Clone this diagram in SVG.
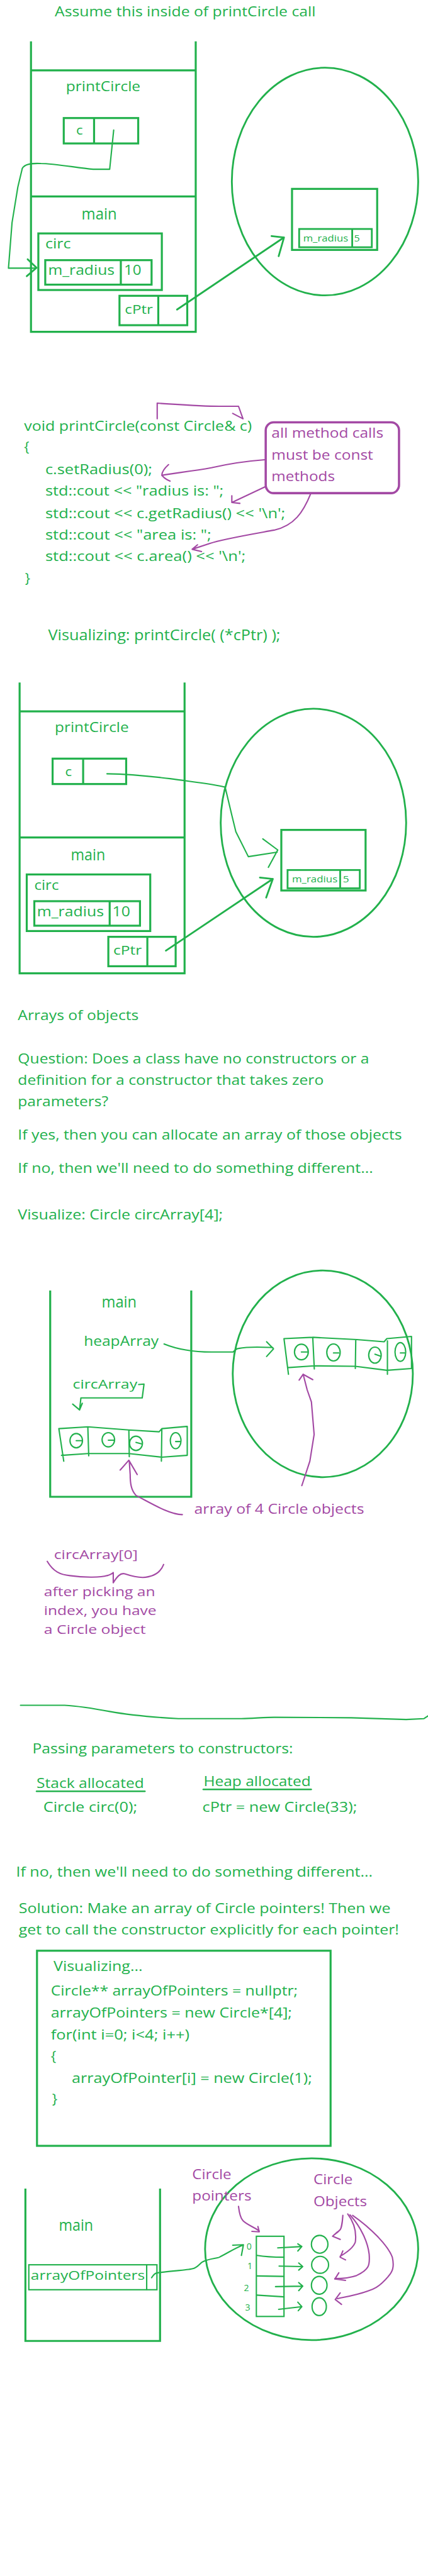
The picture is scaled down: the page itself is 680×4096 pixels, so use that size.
<svg xmlns="http://www.w3.org/2000/svg" width="680" height="4096" viewBox="0 0 680 4096">
<style>
text{font-family:"Open Sans","Liberation Sans",sans-serif}
.g{fill:#22b14c;font-size:31px}
.p{fill:#a349a4;font-size:30px}
.s{fill:none;stroke:#22b14c;stroke-width:4.5;stroke-linejoin:miter}
.e{fill:none;stroke:#22b14c;stroke-width:4}
.t{fill:none;stroke:#22b14c;stroke-width:3;stroke-linecap:round;stroke-linejoin:round}
.q{fill:none;stroke:#a349a4;stroke-width:3;stroke-linecap:round;stroke-linejoin:round}
.pb{fill:none;stroke:#a349a4;stroke-width:5}
</style>
<rect x="0" y="0" width="680" height="4096" fill="#ffffff"/>
<g transform="scale(0.70833)">

<!-- ===== Section 1 ===== -->
<g id="title1"><text class="g" x="123" y="37" textLength="585" lengthAdjust="spacingAndGlyphs">Assume this inside of printCircle call</text></g>
<g id="stack1">
<path class="s" d="M69.5,93 V745 H439 V93 M69.5,158 H439 M69.5,441 H439"/>
<text class="g" style="font-size:32px" x="148" y="205" textLength="167" lengthAdjust="spacingAndGlyphs">printCircle</text>
<text class="g" style="font-size:37px" x="183" y="493" textLength="79" lengthAdjust="spacingAndGlyphs">main</text>
</g>
<g id="cbox1">
<rect class="s" x="143" y="265" width="167" height="57"/>
<line class="s" x1="211" y1="265" x2="211" y2="322"/>
<text class="g" style="font-size:28px" x="171" y="302" textLength="15" lengthAdjust="spacingAndGlyphs">c</text>
</g>
<g id="circ1">
<rect class="s" x="86" y="524" width="277" height="127"/>
<text class="g" x="101.5" y="557" textLength="57.5" lengthAdjust="spacingAndGlyphs">circ</text>
<rect class="s" x="101.5" y="584" width="238.5" height="55"/>
<line class="s" x1="271" y1="584" x2="271" y2="639"/>
<text class="g" style="font-size:30px" x="108" y="617" textLength="149" lengthAdjust="spacingAndGlyphs">m_radius</text>
<text class="g" x="278" y="617" textLength="39" lengthAdjust="spacingAndGlyphs">10</text>
</g>
<g id="cptr1">
<rect class="s" x="268" y="664" width="152" height="66"/>
<line class="s" x1="355" y1="664" x2="355" y2="730"/>
<text class="g" style="font-size:28px" x="280" y="705" textLength="63" lengthAdjust="spacingAndGlyphs">cPtr</text>
</g>
<g id="heap1">
<ellipse class="e" cx="729" cy="407.5" rx="209" ry="255.5"/>
</g>
<g id="heapobj1">
<rect class="s" x="655" y="424" width="191" height="137"/>
<rect class="e" x="671" y="514" width="163" height="41"/>
<line class="e" x1="790" y1="514" x2="790" y2="555"/>
<text class="g" style="font-size:20px" x="680" y="542" textLength="101" lengthAdjust="spacingAndGlyphs">m_radius</text>
<text class="g" style="font-size:20px" x="794" y="542" textLength="13" lengthAdjust="spacingAndGlyphs">5</text>
</g>

<!-- ===== Section 2: code ===== -->
<g id="code1">
<text class="g" x="54" y="967" textLength="511" lengthAdjust="spacingAndGlyphs">void printCircle(const Circle&amp; c)</text>
<text class="g" x="54" y="1014">{</text>
<text class="g" x="101.5" y="1065" textLength="240" lengthAdjust="spacingAndGlyphs">c.setRadius(0);</text>
<text class="g" x="101.5" y="1113" textLength="400" lengthAdjust="spacingAndGlyphs">std::cout &lt;&lt; "radius is: ";</text>
<text class="g" x="101.5" y="1163" textLength="538.5" lengthAdjust="spacingAndGlyphs">std::cout &lt;&lt; c.getRadius() &lt;&lt; '\n';</text>
<text class="g" x="101.5" y="1212" textLength="372.5" lengthAdjust="spacingAndGlyphs">std::cout &lt;&lt; "area is: ";</text>
<text class="g" x="101.5" y="1260" textLength="449.5" lengthAdjust="spacingAndGlyphs">std::cout &lt;&lt; c.area() &lt;&lt; '\n';</text>
<text class="g" x="56" y="1309">}</text>
</g>
<g id="callout">
<rect class="pb" x="596" y="948" width="299" height="159" rx="18"/>
<text class="p" x="609" y="983" textLength="251" lengthAdjust="spacingAndGlyphs">all method calls</text>
<text class="p" x="609" y="1032" textLength="228" lengthAdjust="spacingAndGlyphs">must be const</text>
<text class="p" x="609" y="1080" textLength="142" lengthAdjust="spacingAndGlyphs">methods</text>
</g>

<!-- ===== Section 3 ===== -->
<g id="title2"><text class="g" style="font-size:33px" x="108" y="1437" textLength="521" lengthAdjust="spacingAndGlyphs">Visualizing: printCircle( (*cPtr) );</text></g>
<g id="stack2">
<path class="s" d="M44,1532 V2185 H414 V1532 M44,1597 H414 M44,1880 H414"/>
<text class="g" style="font-size:32px" x="123" y="1643" textLength="166" lengthAdjust="spacingAndGlyphs">printCircle</text>
<text class="g" style="font-size:37px" x="159" y="1932" textLength="77" lengthAdjust="spacingAndGlyphs">main</text>
</g>
<g id="cbox2">
<rect class="s" x="118" y="1703" width="165" height="57"/>
<line class="s" x1="186.5" y1="1703" x2="186.5" y2="1760"/>
<text class="g" style="font-size:28px" x="146" y="1742" textLength="15" lengthAdjust="spacingAndGlyphs">c</text>
</g>
<g id="circ2">
<rect class="s" x="60" y="1963" width="277" height="127"/>
<text class="g" x="77" y="1997" textLength="55" lengthAdjust="spacingAndGlyphs">circ</text>
<rect class="s" x="77" y="2023" width="237" height="55"/>
<line class="s" x1="246" y1="2023" x2="246" y2="2078"/>
<text class="g" style="font-size:30px" x="83" y="2057" textLength="150" lengthAdjust="spacingAndGlyphs">m_radius</text>
<text class="g" x="252" y="2057" textLength="40" lengthAdjust="spacingAndGlyphs">10</text>
</g>
<g id="cptr2">
<rect class="s" x="243" y="2103" width="151" height="66"/>
<line class="s" x1="330.5" y1="2103" x2="330.5" y2="2169"/>
<text class="g" style="font-size:28px" x="254" y="2143" textLength="64" lengthAdjust="spacingAndGlyphs">cPtr</text>
</g>
<g id="heap2">
<ellipse class="e" cx="703" cy="1847" rx="208" ry="256"/>
</g>
<g id="heapobj2">
<rect class="s" x="631" y="1863" width="189" height="136"/>
<rect class="e" x="645" y="1953" width="162" height="41"/>
<line class="e" x1="763" y1="1953" x2="763" y2="1994"/>
<text class="g" style="font-size:20px" x="655" y="1981" textLength="102" lengthAdjust="spacingAndGlyphs">m_radius</text>
<text class="g" style="font-size:20px" x="769" y="1981" textLength="14" lengthAdjust="spacingAndGlyphs">5</text>
</g>

<!-- ===== Section 4 text ===== -->
<g id="arraysText">
<text class="g" x="40" y="2290" textLength="271" lengthAdjust="spacingAndGlyphs">Arrays of objects</text>
<text class="g" x="40" y="2387" textLength="788" lengthAdjust="spacingAndGlyphs">Question: Does a class have no constructors or a</text>
<text class="g" x="40" y="2435" textLength="686" lengthAdjust="spacingAndGlyphs">definition for a constructor that takes zero</text>
<text class="g" x="40" y="2483" textLength="203" lengthAdjust="spacingAndGlyphs">parameters?</text>
<text class="g" x="40" y="2558" textLength="861.5" lengthAdjust="spacingAndGlyphs">If yes, then you can allocate an array of those objects</text>
<text class="g" x="40" y="2633" textLength="797" lengthAdjust="spacingAndGlyphs">If no, then we'll need to do something different...</text>
<text class="g" x="40" y="2738" textLength="460" lengthAdjust="spacingAndGlyphs">Visualize: Circle circArray[4];</text>
</g>

<!-- ===== Section 5 diagram 3 ===== -->
<g id="stack3">
<path class="s" d="M112.6,2897 V3360 H429 V2897"/>
<text class="g" style="font-size:37px" x="228" y="2935" textLength="78.5" lengthAdjust="spacingAndGlyphs">main</text>
<text class="g" x="188" y="3021" textLength="168" lengthAdjust="spacingAndGlyphs">heapArray</text>
<text class="g" style="font-size:29px" x="163" y="3117" textLength="145" lengthAdjust="spacingAndGlyphs">circArray</text>
</g>
<g id="heap3">
<ellipse class="e" cx="724" cy="3084" rx="202" ry="232"/>
</g>
<g id="heapArray">
<path class="t" d="M637,3005 L701.5,3002 L800,3007 L861.5,3012 L867.7,3005 L923,3000 M645,3070 L705,3066 L797,3067 L868,3076 L923,3072 M637,3005 L647,3085 M701.5,3002 L705,3073 M798,3007 L797,3072 M869,3010 L869,3085 M923,3000 L923,3072"/>
<ellipse class="t" cx="676" cy="3035" rx="15.5" ry="17.5"/><path class="t" d="M676,3035 H690"/>
<ellipse class="t" cx="748" cy="3036" rx="15" ry="19"/><path class="t" d="M748,3037 H760"/>
<ellipse class="t" cx="841" cy="3042" rx="14" ry="18"/><path class="t" d="M841,3040 L853,3044"/>
<ellipse class="t" cx="898" cy="3035" rx="12" ry="21"/><path class="t" d="M898,3037 H908"/>
</g>
<g id="circArray">
<path class="t" d="M132,3207 L197,3203 L289,3210 L357,3214 L363,3207 L418.5,3202 M138,3267 L197,3263 L289,3263 L363,3271 L418.5,3267 M132,3207 L143,3280 M197,3203 L199,3268 M289,3210 L290,3270 M363,3207 L362,3280 M420,3202 L420,3267"/>
<ellipse class="t" cx="171" cy="3234" rx="14" ry="16"/><path class="t" d="M171,3234 H183"/>
<ellipse class="t" cx="243" cy="3232" rx="14" ry="16"/><path class="t" d="M243,3233 H255"/>
<ellipse class="t" cx="305" cy="3240" rx="14.5" ry="16"/><path class="t" d="M305,3238 L317,3241"/>
<ellipse class="t" cx="394" cy="3234" rx="12" ry="18"/><path class="t" d="M394,3236 H404"/>
</g>
<g id="labels3">
<text class="p" x="435.7" y="3398" textLength="381" lengthAdjust="spacingAndGlyphs">array of 4 Circle objects</text>
<text class="p" style="font-size:28px" x="121" y="3500" textLength="188" lengthAdjust="spacingAndGlyphs">circArray[0]</text>
<path class="q" d="M106,3505 C120,3528 135,3535 157,3537 C190,3542 228,3541 240,3537 C250,3534 254,3530 254,3530 L254,3553 C262,3540 270,3530 280,3533 C295,3538 305,3541 320,3541 C345,3540 360,3530 367,3512"/>
<text class="p" style="font-size:28px" x="98.5" y="3583" textLength="249.5" lengthAdjust="spacingAndGlyphs">after picking an</text>
<text class="p" style="font-size:28px" x="98.5" y="3625" textLength="252.5" lengthAdjust="spacingAndGlyphs">index, you have</text>
<text class="p" style="font-size:28px" x="98.5" y="3668" textLength="228.5" lengthAdjust="spacingAndGlyphs">a Circle object</text>
</g>

<!-- ===== Section 6 ===== -->
<g id="divider"><path class="t" d="M46,3828 L145,3828 C180,3830 209,3835 246,3842 C290,3850 345,3855 400,3858 L541.5,3858 C570,3857 600,3855 615,3855 L788,3856 C850,3858 900,3860 911,3860 L951,3858 L960,3852"/></g>
<g id="passing">
<text class="g" x="72.6" y="3936" textLength="584.5" lengthAdjust="spacingAndGlyphs">Passing parameters to constructors:</text>
<text class="g" x="82" y="4013" textLength="241" lengthAdjust="spacingAndGlyphs">Stack allocated</text>
<path class="t" style="stroke-width:3.5" d="M82,4021 H325"/>
<text class="g" x="456.6" y="4010" textLength="240.5" lengthAdjust="spacingAndGlyphs">Heap allocated</text>
<path class="t" style="stroke-width:3.5" d="M456,4017 H698"/>
<text class="g" x="97" y="4067" textLength="211" lengthAdjust="spacingAndGlyphs">Circle circ(0);</text>
<text class="g" x="454" y="4068" textLength="347" lengthAdjust="spacingAndGlyphs">cPtr = new Circle(33);</text>
<text class="g" x="36" y="4213" textLength="800" lengthAdjust="spacingAndGlyphs">If no, then we'll need to do something different...</text>
<text class="g" x="42" y="4295" textLength="834" lengthAdjust="spacingAndGlyphs">Solution: Make an array of Circle pointers! Then we</text>
<text class="g" x="42" y="4343" textLength="853" lengthAdjust="spacingAndGlyphs">get to call the constructor explicitly for each pointer!</text>
</g>
<g id="code2">
<rect class="s" x="83" y="4379" width="658.5" height="438"/>
<text class="g" style="font-size:32px" x="120" y="4425" textLength="200" lengthAdjust="spacingAndGlyphs">Visualizing...</text>
<text class="g" style="font-size:32px" x="114" y="4480" textLength="554" lengthAdjust="spacingAndGlyphs">Circle** arrayOfPointers = nullptr;</text>
<text class="g" style="font-size:32px" x="114" y="4529" textLength="541" lengthAdjust="spacingAndGlyphs">arrayOfPointers = new Circle*[4];</text>
<text class="g" style="font-size:32px" x="114" y="4578" textLength="311" lengthAdjust="spacingAndGlyphs">for(int i=0; i&lt;4; i++)</text>
<text class="g" style="font-size:32px" x="114" y="4627">{</text>
<text class="g" style="font-size:32px" x="161" y="4676" textLength="539" lengthAdjust="spacingAndGlyphs">arrayOfPointer[i] = new Circle(1);</text>
<text class="g" style="font-size:32px" x="117" y="4723">}</text>
</g>

<!-- ===== Section 7 ===== -->
<g id="stack4">
<path class="s" d="M57,4913 V5255 H359 V4913"/>
<text class="g" style="font-size:37px" x="132" y="5007" textLength="77" lengthAdjust="spacingAndGlyphs">main</text>
</g>
<g id="aop">
<rect class="t" x="64.6" y="5084" width="287.4" height="56" style="stroke-linejoin:miter"/>
<line class="t" x1="329" y1="5084" x2="329" y2="5140"/>
<text class="g" style="font-size:27px" x="69" y="5117" textLength="256" lengthAdjust="spacingAndGlyphs">arrayOfPointers</text>
</g>
<g id="heap4">
<ellipse class="e" cx="699" cy="5049" rx="239" ry="204"/>
</g>
<g id="ptrArray">
<rect class="t" x="575" y="5020" width="62" height="180" style="stroke-linejoin:miter"/>
<path class="t" d="M576.6,5063 C600,5067 620,5067 637,5067 M576,5109 L637,5110 M576,5152 L637,5156"/>
<text class="g" style="font-size:20px" x="553" y="5050">0</text>
<text class="g" style="font-size:20px" x="555" y="5093">1</text>
<text class="g" style="font-size:20px" x="547" y="5143">2</text>
<text class="g" style="font-size:20px" x="550" y="5187">3</text>
</g>
<g id="objs">
<ellipse class="t" cx="717" cy="5038" rx="18.5" ry="20"/>
<ellipse class="t" cx="718" cy="5084" rx="19" ry="19"/>
<ellipse class="t" cx="716" cy="5130" rx="17.5" ry="20"/>
<ellipse class="t" cx="716" cy="5178" rx="16" ry="20"/>
</g>
<g id="labels4">
<text class="p" style="font-size:32px" x="431" y="4892" textLength="88" lengthAdjust="spacingAndGlyphs">Circle</text>
<text class="p" style="font-size:32px" x="431" y="4940" textLength="133" lengthAdjust="spacingAndGlyphs">pointers</text>
<text class="p" style="font-size:32px" x="703" y="4903" textLength="88" lengthAdjust="spacingAndGlyphs">Circle</text>
<text class="p" style="font-size:31px" x="703" y="4952" textLength="120" lengthAdjust="spacingAndGlyphs">Objects</text>
</g>

<!-- ===== Connectors ===== -->
<g id="connectors">
<path class="t" d="M255,292 L246,380 L209,380 C170,376 120,367 92,367 C70,366 55,368 50,378 L40,420 L27,500 L19,602 L80,602"/>
<path class="t" style="stroke-width:4" d="M62,582 L82,601 L60,620"/>
<path class="t" style="stroke-width:4" d="M397,695 L637,533 M609,530 L637,533 L625,575"/>

<path class="q" d="M352.6,940 L352.6,905 C400,908 450,912 492,912 L535,912 L545,940 M522,928 L545,940"/>
<path class="q" d="M594,1032 C540,1036 500,1044 474,1050 C430,1058 390,1062 363,1067 M378,1043 C368,1052 363,1060 363,1067 C368,1073 376,1078 381.5,1080"/>
<path class="q" d="M594,1093 L520,1128 M520,1113 L520,1128 L538,1130"/>
<path class="q" d="M697,1108 C680,1150 660,1180 615,1190 C560,1200 500,1210 470,1220 L431,1233 M443,1223 L431,1233 L452,1238"/>

<path class="t" d="M240,1737 C300,1738 350,1744 381.5,1748 C430,1755 480,1760 505,1767 L520,1830 L529,1867 L557,1923 L621.5,1913 M589.5,1883 L623,1908 L602,1947"/>
<path class="t" style="stroke-width:4" d="M372,2134 L612,1973 M583,1970 L612,1973 L597,2015"/>

<path class="t" d="M311,3108 L323,3107 L319,3138 L181.5,3138 L178.5,3165 M163,3152 L178.5,3165 L184.6,3150"/>
<path class="t" d="M368,3017 C400,3030 440,3035 474,3035 L523,3035 C528,3030 530,3027 535,3027 C560,3022 590,3024 612,3025 M598,3012 L613.5,3028 L598,3045"/>
<path class="q" d="M677,3335 L695,3280 L704.6,3220 L698.5,3147 L689,3120 L680,3085 M671,3098 L680,3085 L701.5,3097"/>
<path class="q" d="M409,3400 C380,3400 340,3375 305,3357 C294,3345 292,3330 292,3310 L290,3280 M269.5,3300 L289,3278 L307.7,3310"/>

<path class="t" d="M340,5113 C345,5105 350,5102 354,5102 C380,5098 420,5096 431,5093 C445,5090 448,5080 455,5077 C470,5070 485,5070 492,5067 C515,5055 530,5045 545,5040 M522,5040 L546,5039 L541.5,5063"/>
<path class="t" d="M623,5046 L677,5043 M668,5037 L677,5043 L668,5053"/>
<path class="t" d="M626,5087 L679,5088 M670,5080 L679,5088 L670,5096"/>
<path class="t" d="M618,5133 L679,5132 M670,5124 L679,5132 L670,5142"/>
<path class="t" d="M625,5184 L677,5178 M668,5168 L677,5178 L669,5187"/>
<path class="q" d="M535,4953 C537,4970 540,4980 545,4985 C555,4995 566,4997 581.5,5008 M565,5009 L581.5,5010 L578.5,4998"/>
<path class="q" d="M769,4973 C768,4990 765,5003 763,5005 C757,5012 750,5016 748,5018 M757,5010 L746,5020 L763,5027"/>
<path class="q" d="M780,4970 C795,4990 800,5010 797,5033 C793,5045 775,5058 763,5065 M769,5053 L763,5067 L775,5073"/>
<path class="q" d="M785,4972 C810,5000 825,5033 828,5060 C830,5085 828,5095 800,5108 C780,5115 760,5115 751,5115 M760,5102 L751,5116 L775,5119"/>
<path class="q" d="M791,4973 C830,5000 870,5040 880,5067 C885,5090 880,5100 871,5110 C850,5135 835,5140 824.6,5143 C800,5152 770,5157 757,5160 M763,5147 L752,5162 L766,5173"/>
</g>
</g>
</svg>
